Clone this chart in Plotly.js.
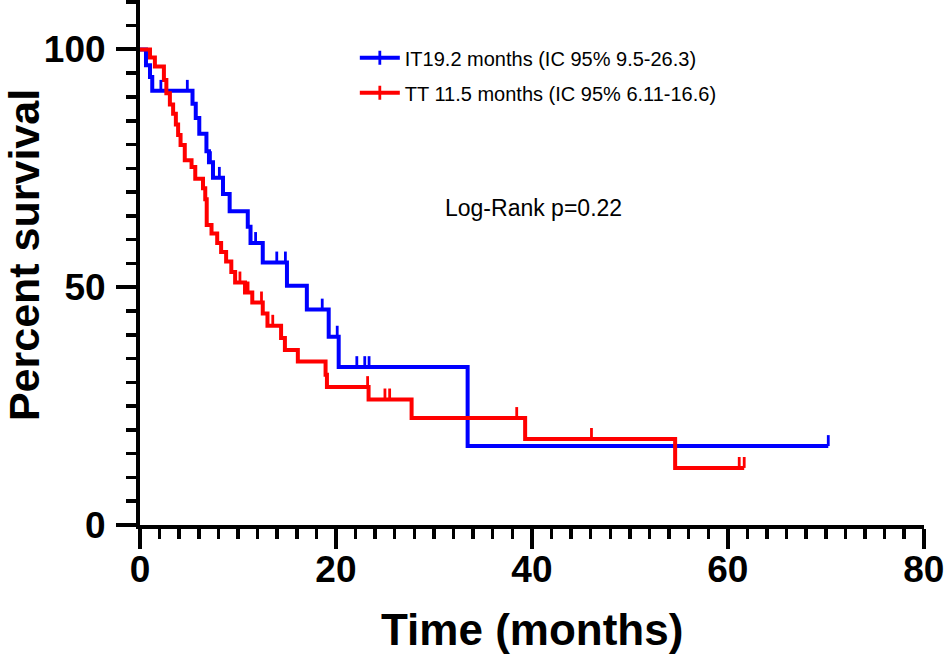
<!DOCTYPE html>
<html>
<head>
<meta charset="utf-8">
<script src="https://cdn.plot.ly/plotly-3.0.1.min.js"></script>
<style>html,body{margin:0;padding:0;background:#fff;}#chart{width:947px;height:655px;}</style>
</head>
<body>
<div id="chart"></div>
<script>
// IT group (blue): event times (months) and survival (%) after each event
const blueTime = [0.61, 1.02, 1.25, 5.36, 5.69, 6.05, 6.78, 7.04, 7.45, 8.47, 9.15, 11.0, 11.28, 12.53, 15.0, 17.03, 19.26, 20.28, 33.44];
const blueSurv = [96.7, 94.2, 91.3, 88.6, 85.6, 82.3, 78.6, 76.3, 73.0, 69.6, 66.0, 62.7, 59.3, 55.2, 50.3, 45.3, 39.6, 33.2, 16.6];
const blueEnd = 70.25;
const blueCensor = [2.13, 4.83, 7.19, 8.1, 11.8, 13.96, 14.84, 18.6, 20.13, 22.13, 22.94, 23.38, 70.25];

// TT group (red)
const redTime = [1.02, 1.52, 2.44, 2.69, 3.05, 3.38, 3.66, 3.89, 4.14, 4.57, 5.26, 5.64, 6.43, 6.66, 6.81, 7.3, 7.88, 8.28, 8.79, 9.32, 9.71, 10.72, 11.46, 12.53, 13.01, 14.4, 14.79, 16.11, 18.94, 19.08, 23.33, 27.72, 39.31, 54.62];
const redSurv = [98.3, 96.4, 93.6, 90.8, 88.4, 86.5, 84.2, 82.0, 79.9, 76.7, 75.3, 72.8, 70.8, 68.5, 63.1, 61.3, 59.3, 57.4, 55.4, 53.2, 51.0, 48.9, 46.8, 44.5, 41.9, 39.3, 36.8, 34.4, 31.6, 29.0, 26.4, 22.5, 18.1, 12.0];
const redEnd = 61.67;
const redCensor = [10.2, 11.03, 12.4, 13.55, 23.23, 25.0, 25.48, 38.45, 46.08, 61.16, 61.67];

const blueName = 'IT19.2 months (IC 95% 9.5-26.3)';
const redName = 'TT 11.5 months (IC 95% 6.11-16.6)';
const annotText = 'Log-Rank p=0.22';
const xTitle = 'Time (months)';
const yTitle = 'Percent survival';

const BLUE = '#0000ff', RED = '#ff0000';
const FONT = 'Liberation Sans, Arial, Helvetica, sans-serif';

function stepX(times, end) { return [0].concat(times, [end]); }
function stepY(surv) { return [100].concat(surv, [surv[surv.length - 1]]); }
function survAt(times, surv, t) {
  let s = 100;
  for (let i = 0; i < times.length; i++) { if (times[i] <= t) s = surv[i]; }
  return s;
}

function curve(times, surv, end, color, grp) {
  return {x: stepX(times, end), y: stepY(surv), mode: 'lines', line: {shape: 'hv', color: color, width: 4},
          legendgroup: grp, showlegend: false, hoverinfo: 'skip', cliponaxis: false};
}
function censor(ct, times, surv, color, grp) {
  return {x: ct, y: ct.map(t => survAt(times, surv, t)), mode: 'markers', marker: {size: 1, opacity: 0},
          error_y: {type: 'constant', symmetric: false, value: 2.3, valueminus: 0, width: 0, thickness: 2.8, color: color},
          legendgroup: grp, showlegend: false, hoverinfo: 'skip', cliponaxis: false};
}
function legendItem(name, color, grp) {
  return {x: [null], y: [null], mode: 'lines+markers', name: name, legendgroup: grp, line: {color: color, width: 4},
          marker: {symbol: 'line-ns', size: 10, color: color, line: {color: color, width: 2.8}}};
}

const data = [
  curve(blueTime, blueSurv, blueEnd, BLUE, 'it'),
  curve(redTime, redSurv, redEnd, RED, 'tt'),
  censor(blueCensor, blueTime, blueSurv, BLUE, 'it'),
  censor(redCensor, redTime, redSurv, RED, 'tt'),
  legendItem(blueName, BLUE, 'it'),
  legendItem(redName, RED, 'tt')
];

const axisCommon = {
  showline: true, linewidth: 4, linecolor: '#000', showgrid: false, zeroline: false,
  ticks: 'outside', ticklen: 20, tickwidth: 4, tickcolor: '#000', ticklabeloverflow: 'allow',
  tickfont: {family: FONT, size: 37, weight: 'bold', color: '#000'}
};

const titleFont = {family: FONT, size: 44, weight: 'bold', color: '#000'};

const layout = {
  width: 947, height: 655,
  margin: {l: 140, r: 23, t: 0, b: 130, pad: 0},
  paper_bgcolor: '#fff', plot_bgcolor: '#fff',
  font: {family: FONT, color: '#000'},
  xaxis: Object.assign({}, axisCommon, {
    range: [0, 80.02], tick0: 0, dtick: 20, ticklabelstandoff: -11,
    minor: {dtick: 2, ticks: 'outside', ticklen: 10, tickwidth: 3.5, tickcolor: '#000', showgrid: false}
  }),
  yaxis: Object.assign({}, axisCommon, {
    range: [0, 110.4], tick0: 0, dtick: 50, ticklabelstandoff: 3,
    minor: {dtick: 5, ticks: 'outside', ticklen: 10, tickwidth: 3.5, tickcolor: '#000', showgrid: false}
  }),
  legend: {x: 0.274, y: 0.927, xanchor: 'left', yanchor: 'top', bgcolor: 'rgba(0,0,0,0)',
           traceorder: 'grouped', font: {family: FONT, size: 20, color: '#000'}, itemwidth: 40, tracegroupgap: 6},
  annotations: [
    {x: 40.2, y: 66.6, xref: 'x', yref: 'y', text: annotText, showarrow: false,
     font: {family: FONT, size: 23, color: '#000'}},
    {x: 0.5, y: -0.148, xref: 'paper', yref: 'paper', xanchor: 'center', yanchor: 'top',
     text: xTitle, showarrow: false, font: titleFont},
    {x: -0.148, y: 0.514, xref: 'paper', yref: 'paper', xanchor: 'center', yanchor: 'middle', textangle: -90,
     text: yTitle, showarrow: false, font: Object.assign({}, titleFont, {size: 43})}
  ]
};

Plotly.newPlot('chart', data, layout, {staticPlot: true, displayModeBar: false});
</script>
</body>
</html>
